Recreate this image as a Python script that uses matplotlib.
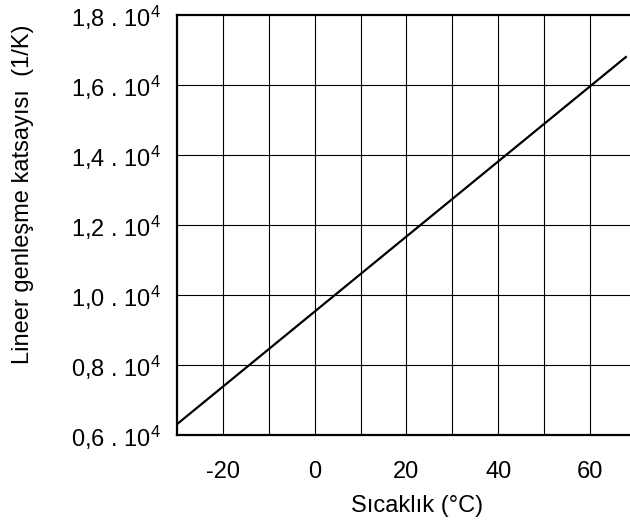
"""Linear expansion coefficient vs temperature."""

import matplotlib
matplotlib.use("Agg")
import matplotlib.pyplot as plt

plt.rcParams['font.family'] = ['Liberation Sans', 'DejaVu Sans']
plt.rcParams['mathtext.fontset'] = 'custom'
plt.rcParams['mathtext.rm'] = 'Liberation Sans'
plt.rcParams['mathtext.it'] = 'Liberation Sans'
plt.rcParams['mathtext.default'] = 'regular'
plt.rcParams['axes.unicode_minus'] = False

# Data
temp = [-30, 67.8]
coef = [0.631, 1.680]

x_ticks = [-20, 0, 20, 40, 60]
x_grid = [-20, -10, 0, 10, 20, 30, 40, 50, 60]
y_ticks = [0.6, 0.8, 1.0, 1.2, 1.4, 1.6, 1.8]
y_labels = ['0,6 . 10$^4$', '0,8 . 10$^4$', '1,0 . 10$^4$', '1,2 . 10$^4$',
            '1,4 . 10$^4$', '1,6 . 10$^4$', '1,8 . 10$^4$']


def main():
    fig = plt.figure(figsize=(6.3, 5.25), dpi=100)
    ax = fig.add_axes([0.281, 0.1714, 0.719, 0.8])

    for xv in x_grid:
        ax.axvline(xv, color='black', lw=0.8, zorder=1)
    for yv in y_ticks[1:-1]:
        ax.axhline(yv, color='black', lw=0.8, zorder=1)

    ax.plot(temp, coef, color='black', lw=1.6, zorder=3)

    ax.set_xlim(-30, 68.7)
    ax.set_ylim(0.6, 1.8)
    ax.set_xticks(x_ticks)
    ax.set_yticks(y_ticks)
    ax.set_yticklabels(y_labels)
    ax.tick_params(length=0, labelsize=17)
    ax.tick_params(axis='x', pad=19)
    ax.tick_params(axis='y', pad=12)

    for side in ['left', 'top', 'bottom']:
        ax.spines[side].set_linewidth(1.6)
    ax.spines['right'].set_visible(False)

    ax.set_xlabel('Sıcaklık (°C)', fontsize=17)
    ax.xaxis.set_label_coords(0.53, -0.143)
    ax.set_ylabel('Lineer genleşme katsayısı  (1/K)', fontsize=17)
    ax.yaxis.set_label_coords(-0.315, 0.573)

    fig.savefig('out.png', dpi=100)


if __name__ == "__main__":
    main()
